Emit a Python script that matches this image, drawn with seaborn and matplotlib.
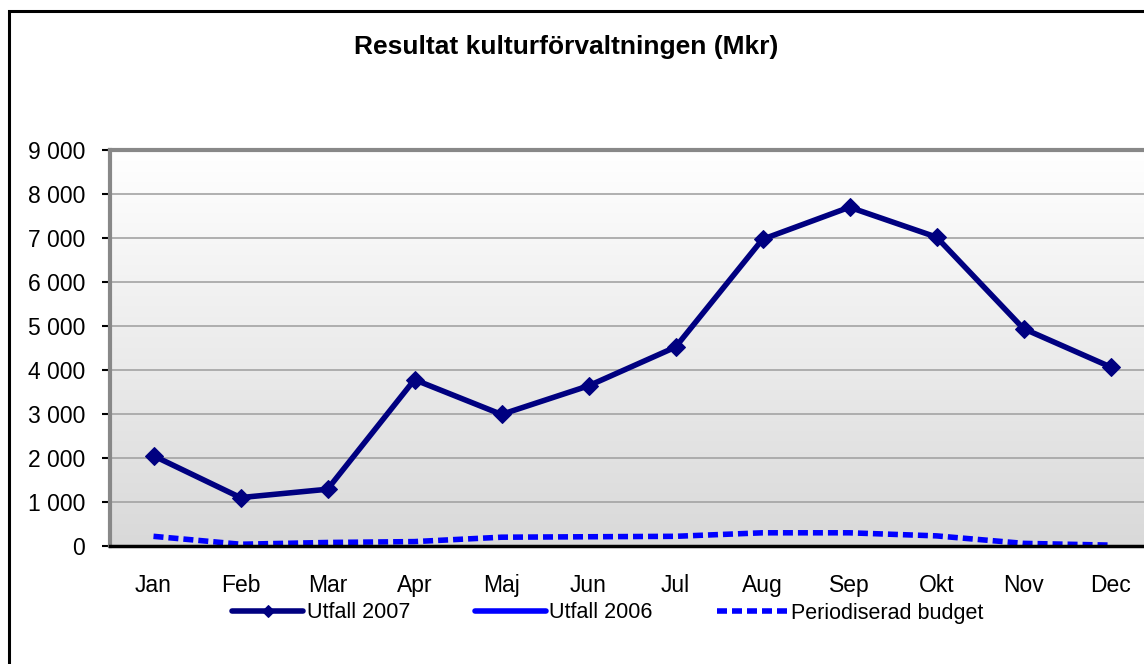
import numpy as np
import matplotlib
matplotlib.use("Agg")
import matplotlib.pyplot as plt
from matplotlib.colors import LinearSegmentedColormap
from matplotlib.patches import Rectangle
import seaborn as sns

months = ["Jan", "Feb", "Mar", "Apr", "Maj", "Jun", "Jul", "Aug", "Sep", "Okt", "Nov", "Dec"]
utfall_2007 = [2050, 1100, 1290, 3780, 2990, 3640, 4520, 6970, 7700, 7020, 4940, 4070]
utfall_2006 = [np.nan] * 12
budget = [220, 40, 80, 100, 200, 210, 220, 300, 300, 230, 60, 20]
y_ticks = [0, 1000, 2000, 3000, 4000, 5000, 6000, 7000, 8000, 9000]

sns.set_style("white")
plt.rcParams["font.family"] = ["Liberation Sans", "DejaVu Sans"]
plt.rcParams["text.color"] = "black"
plt.rcParams["xtick.color"] = "black"
plt.rcParams["ytick.color"] = "black"

W, H = 1144, 664
fig = plt.figure(figsize=(W / 100, H / 100), dpi=100)
# plot area runs past the right edge like in the cropped original
ax = fig.add_axes([110 / W, 1 - 546 / H, 1044 / W, 396 / H])

# gradient background of plot area
grad = LinearSegmentedColormap.from_list("bg", ["#d9d9d9", "#ffffff"])
ax.imshow(np.linspace(1, 0, 256).reshape(-1, 1), cmap=grad, aspect="auto",
          extent=(-0.5, len(months) - 0.5, 0, 9000), zorder=0)

sns.lineplot(x=months, y=utfall_2007, ax=ax, sort=False, color="#000080",
             linewidth=4, marker="D", markersize=9, markeredgecolor="#000080",
             label="Utfall 2007", zorder=4)
ax.plot(np.arange(len(months)), utfall_2006, color="#0000ff", linewidth=4,
        label="Utfall 2006")
sns.lineplot(x=months, y=budget, ax=ax, sort=False, color="#0000ff",
             linewidth=4, linestyle=(0, (1.8, 0.9)), label="Periodiserad budget",
             zorder=3)

ax.set_xlim(-0.5, len(months) - 0.5)
ax.set_ylim(0, 9000)
ax.set_yticks(y_ticks)
ax.set_yticklabels([f"{v:,}".replace(",", " ") for v in y_ticks], fontsize=16.5)
ax.set_xticks(range(len(months)))
ax.set_xticklabels(months, fontsize=16.5)
ax.set_xticks(np.arange(-0.5, len(months)), minor=True)
ax.tick_params(axis="x", which="major", length=0, pad=20)
ax.tick_params(axis="x", which="minor", length=6, width=2, color="black", direction="out")
ax.tick_params(axis="y", length=6, width=1.5, color="black", direction="out", pad=12, left=True)
ax.set_xlabel("")
ax.set_ylabel("")

ax.yaxis.grid(True, color="#a3a3a3", linewidth=1.2)
ax.set_axisbelow(True)
for side in ["top", "left", "right"]:
    ax.spines[side].set_color("#888888")
    ax.spines[side].set_linewidth(3)
ax.spines["bottom"].set_color("black")
ax.spines["bottom"].set_linewidth(2.5)
ax.spines["bottom"].set_zorder(5)

ax.legend_.remove()
handles, labels = ax.get_legend_handles_labels()
leg = fig.legend(handles, labels, loc="center", bbox_to_anchor=(608 / W, 1 - 613 / H),
                 ncol=3, frameon=False, fontsize=15.5, handlelength=3.3,
                 handletextpad=0.15, columnspacing=3.0, markerscale=0.7)

fig.text(566 / W, 1 - 47 / H, "Resultat kulturförvaltningen (Mkr)",
         ha="center", va="center", fontsize=19, fontweight="bold")

# outer chart border (cropped on the right and bottom)
fig.patches.append(Rectangle((9 / W, -0.1), 1.2, 1.1 - 11 / H, transform=fig.transFigure,
                             fill=False, edgecolor="black", linewidth=2.2))

fig.savefig("out.png", dpi=100)
